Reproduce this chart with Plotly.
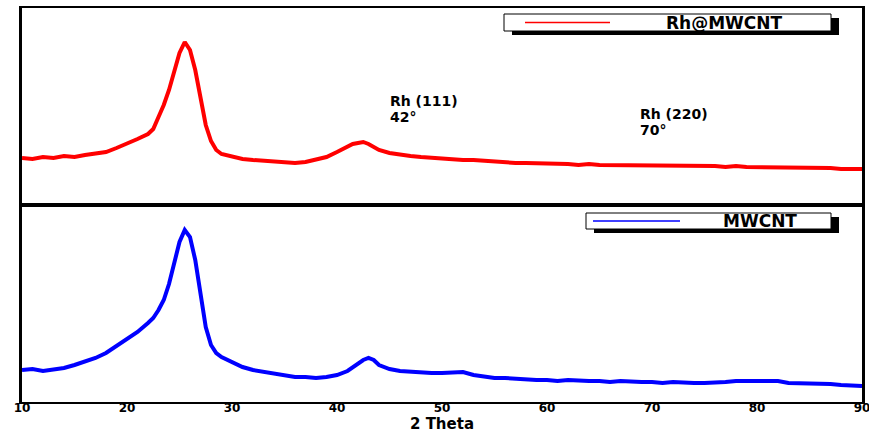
import plotly.graph_objects as go
from plotly.subplots import make_subplots

# ---------------- data ----------------
two_theta_rh = [10, 11, 12, 13, 14, 15, 16, 17, 18, 19, 20, 21, 22, 22.5, 23, 23.5, 24, 24.5, 25, 25.5,
                26, 26.5, 27, 27.5, 28, 28.5, 29, 30, 31, 32, 33, 34, 35, 36, 37, 38, 39, 40, 41, 41.5,
                42, 42.5, 43, 43.5, 44, 45, 46, 47, 48, 49, 50, 51, 52, 53, 54, 55, 56, 57, 58, 59,
                60, 61, 62, 63, 64, 65, 66, 67, 68, 69, 70, 71, 72, 73, 74, 75, 76, 77, 78, 79,
                80, 81, 82, 83, 84, 85, 86, 87, 88, 89, 90]
intensity_rh = [47, 46, 48, 47, 49, 48, 50, 51, 53, 57, 61, 66, 71, 76, 88, 100, 115, 135, 152, 163,
                155, 135, 108, 80, 64, 55, 51, 48, 46, 45, 44, 43, 43, 42, 43, 45, 48, 53, 58, 61,
                62, 63, 61, 58, 55, 52, 50, 49, 48, 47, 46, 46, 45, 45, 44, 43, 43, 42, 42, 42,
                41, 41, 41, 40, 41, 40, 40, 40, 39, 40, 40, 39, 39, 40, 39, 39, 39, 38, 39, 38,
                38, 38, 38, 37, 38, 37, 37, 37, 36, 36, 36]

two_theta_cnt = [10, 11, 12, 13, 14, 15, 16, 17, 18, 19, 20, 21, 22, 22.5, 23, 23.5, 24, 24.5, 25, 25.5,
                 26, 26.5, 27, 27.5, 28, 28.5, 29, 30, 31, 32, 33, 34, 35, 36, 37, 38, 39, 40, 41, 42,
                 42.5, 43, 43.5, 44, 45, 46, 47, 48, 49, 50, 51, 52, 53, 54, 55, 56, 57, 58, 59,
                 60, 61, 62, 63, 64, 65, 66, 67, 68, 69, 70, 71, 72, 73, 74, 75, 76, 77, 78, 79,
                 80, 81, 82, 83, 84, 85, 86, 87, 88, 89, 90]
intensity_cnt = [32, 33, 31, 32, 34, 37, 40, 44, 49, 56, 62, 70, 79, 84, 92, 102, 118, 140, 160, 172,
                 165, 142, 105, 75, 57, 49, 45, 40, 35, 32, 30, 28, 26, 25, 25, 24, 25, 27, 31, 38,
                 42, 44, 42, 37, 33, 31, 30, 30, 29, 29, 30, 30, 27, 25, 24, 24, 23, 23, 22,
                 22, 21, 22, 21, 21, 21, 20, 21, 20, 20, 20, 19, 20, 19, 19, 19, 19, 20, 21, 21,
                 21, 20, 21, 19, 19, 18, 18, 18, 17, 17, 16]

series_names = ["Rh@MWCNT", "MWCNT"]
series_colors = ["#ff0000", "#0000ff"]
x_ticks = [10, 20, 30, 40, 50, 60, 70, 80, 90]
x_title = "2 Theta"

# ---------------- layout helpers ----------------
W, H = 869, 433
ML, MR, MT, MB = 22, 7, 8, 31
PW, PH = W - ML - MR, H - MT - MB


def px(x):
    return (x - ML) / PW


def py(y):
    return (H - MB - y) / PH


FONT = "DejaVu Sans"

fig = make_subplots(rows=2, cols=1, shared_xaxes=True, vertical_spacing=0)
fig.add_trace(go.Scatter(x=two_theta_rh, y=intensity_rh, mode="lines", name=series_names[0],
                         line=dict(color=series_colors[0], width=4), showlegend=False), row=1, col=1)
fig.add_trace(go.Scatter(x=two_theta_cnt, y=intensity_cnt, mode="lines", name=series_names[1],
                         line=dict(color=series_colors[1], width=4), showlegend=False), row=2, col=1)

fig.update_xaxes(range=[10, 90], tickvals=x_ticks, showline=True, mirror=True, linecolor="black",
                 linewidth=2, showgrid=False, zeroline=False, ticks="", automargin=False,
                 ticklabeloverflow="allow",
                 tickfont=dict(family=FONT, size=12, color="black", weight="bold"))
fig.update_xaxes(showticklabels=False, row=1, col=1)
fig.update_xaxes(title=dict(text=x_title, standoff=7,
                            font=dict(family=FONT, size=15, color="black", weight="bold")),
                 ticklabelstandoff=-6, row=2, col=1)
fig.update_yaxes(range=[0, 197], showticklabels=False, showline=True, mirror=True, linecolor="black",
                 linewidth=3, showgrid=False, zeroline=False, ticks="", automargin=False)

shapes = []
annotations = []

# legend boxes (box with drop shadow, line sample, label)
legend_boxes = [
    dict(x0=504, x1=831, y0=14, y1=31, lx0=525, lx1=610, tx=724, name=series_names[0], color=series_colors[0]),
    dict(x0=586, x1=831, y0=213, y1=229, lx0=593, lx1=680, tx=760, name=series_names[1], color=series_colors[1]),
]
for b in legend_boxes:
    shapes.append(dict(type="rect", xref="paper", yref="paper",
                       x0=px(b["x0"] + 8), x1=px(b["x1"] + 8), y0=py(b["y1"] + 4), y1=py(b["y0"] + 4),
                       fillcolor="black", line=dict(width=0), layer="above"))
    shapes.append(dict(type="rect", xref="paper", yref="paper",
                       x0=px(b["x0"]), x1=px(b["x1"]), y0=py(b["y1"]), y1=py(b["y0"]),
                       fillcolor="white", line=dict(color="black", width=1), layer="above"))
    yc = (b["y0"] + b["y1"]) / 2
    shapes.append(dict(type="line", xref="paper", yref="paper",
                       x0=px(b["lx0"]), x1=px(b["lx1"]), y0=py(yc), y1=py(yc),
                       line=dict(color=b["color"], width=1.5), layer="above"))
    annotations.append(dict(xref="paper", yref="paper", x=px(b["tx"]), y=py(yc), text=b["name"],
                            showarrow=False, xanchor="center", yanchor="middle",
                            font=dict(family=FONT, size=17, color="black", weight="bold")))

# peak labels (top panel data coordinates)
peak_labels = [("Rh (111)", 44.9, 104), ("42°", 44.9, 88), ("Rh (220)", 68.7, 91), ("70°", 68.7, 75)]
for text, xv, yv in peak_labels:
    annotations.append(dict(xref="x", yref="y", x=xv, y=yv, text=text, showarrow=False,
                            xanchor="left", yanchor="middle",
                            font=dict(family=FONT, size=14, color="black", weight="bold")))

fig.update_layout(width=W, height=H, margin=dict(l=ML, r=MR, t=MT, b=MB),
                  paper_bgcolor="white", plot_bgcolor="white",
                  shapes=shapes, annotations=annotations, showlegend=False)

fig.write_html("out.html", config={"displayModeBar": False},
               post_script="document.body.style.margin='0';document.body.style.overflow='hidden';")
